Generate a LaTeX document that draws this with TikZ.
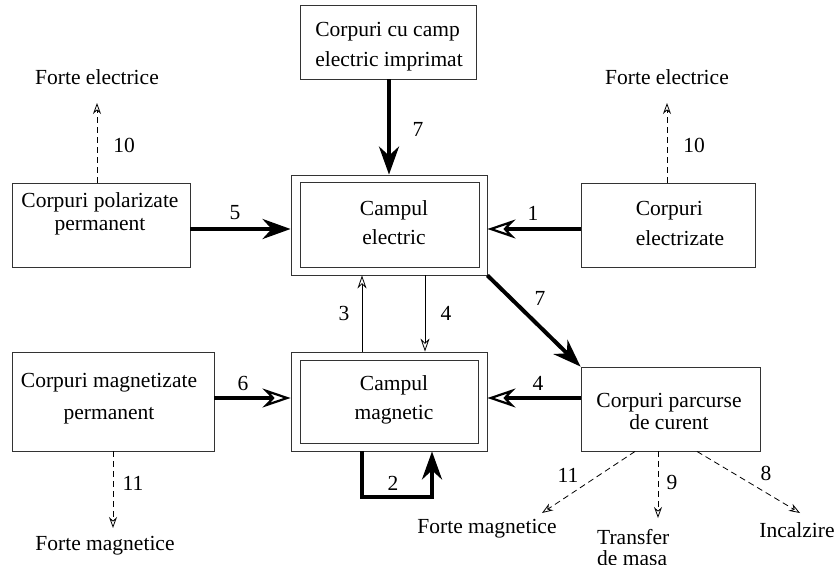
\documentclass[tikz,border=0pt]{standalone}
\usepackage{fontspec}
\setmainfont{Liberation Serif}
\usetikzlibrary{arrows.meta}
\begin{document}
\begin{tikzpicture}[x=1pt,y=-1pt,
  every node/.style={font=\fontsize{21.5}{29}\selectfont},
  box/.style={draw=black!80,line width=0.9pt,inner sep=0pt},
  txt/.style={inner sep=0pt,align=center},
  thickfill/.style={line width=4pt,-{Stealth[length=28pt,width=20pt]}},
  thickopen/.style={line width=4pt,-{Stealth[open,length=28pt,width=19pt,line width=2.2pt]}},
  thinopen/.style={line width=0.8pt,-{Stealth[open,length=13pt,width=9pt]}},
  dashopen/.style={line width=0.8pt,dash pattern=on 6pt off 4pt,-{Stealth[open,length=11pt,width=8pt]}},
  lbl/.style={inner sep=0pt}]
\useasboundingbox (0,0) rectangle (839,565);
% boxes
\node[box,minimum width=176pt,minimum height=74pt] (top) at (388,42) {};
\node[box,minimum width=196pt,minimum height=100pt] (elecO) at (389,225) {};
\node[box,minimum width=179pt,minimum height=85pt] (elecI) at (389.5,225) {};
\node[box,minimum width=196pt,minimum height=99pt] (magO) at (389,401.5) {};
\node[box,minimum width=178pt,minimum height=83pt] (magI) at (389,401.5) {};
\node[box,minimum width=178pt,minimum height=84pt] (pol) at (101,225) {};
\node[box,minimum width=174pt,minimum height=84pt] (elz) at (668,225) {};
\node[box,minimum width=202pt,minimum height=99pt] (mgz) at (113,401.5) {};
\node[box,minimum width=179pt,minimum height=84pt] (cur) at (670.5,409) {};
% box texts
\node[txt,align=left,font=\fontsize{21.5}{30}\selectfont] (ttop) at (389,47) {Corpuri cu camp\\electric imprimat};
\node[txt] (telec) at (394,222.5) {Campul\\electric};
\node[txt] (tmag) at (394,399.5) {Campul\\magnetic};
\node[txt,font=\fontsize{21.5}{23}\selectfont] (tpol) at (100,213.5) {Corpuri polarizate\\permanent};
\node[txt,align=left,font=\fontsize{21.5}{30}\selectfont] (telz) at (680,223) {Corpuri\\electrizate};
\node[txt,font=\fontsize{21.5}{32}\selectfont] (tmgz) at (109,399) {Corpuri magnetizate\\permanent};
\node[txt,font=\fontsize{21.5}{22}\selectfont] (tcur) at (669,411) {Corpuri parcurse\\de curent};
% end texts
\node[lbl] (fe1) at (97,77) {Forte electrice};
\node[lbl] (fe2) at (667,77) {Forte electrice};
\node[lbl] (fm1) at (105,546) {Forte magnetice};
\node[lbl] (fm2) at (487,529) {Forte magnetice};
\node[lbl,align=left,anchor=west,font=\fontsize{21.5}{21}\selectfont] (tm) at (597,548) {Transfer\\de masa};
\node[lbl] (inc) at (797,530) {Incalzire};
\coordinate (e10a) at (97,103);
\coordinate (e10b) at (667,103);
\coordinate (e11a) at (113,528);
\coordinate (e11b) at (542,513);
\coordinate (e9) at (658,518);
\coordinate (e8) at (800,513);
% connectors
\draw[thickfill] (top.south -| elecO.north) -- (elecO.north);
\draw[thickfill] (pol.east |- 0,229) -- (elecO.west |- 0,229);
\draw[thickopen] (elz.west |- 0,229) -- (elecO.east |- 0,229);
\draw[thinopen] ([xshift=-27pt]magO.north) -- ([xshift=-27pt]elecO.south);
\draw[thinopen] ([xshift=36pt]elecO.south) -- ([xshift=36pt]magO.north);
\draw[thickfill] (elecO.south east) -- (cur.north west);
\draw[thickopen] (mgz.east |- 0,398) -- (magO.west |- 0,398);
\draw[thickopen] (cur.west |- 0,398) -- (magO.east |- 0,398);
\draw[thickfill] ([xshift=-27pt]magO.south) -- ++(0,46) -| ([xshift=43pt]magO.south);
\draw[dashopen] (pol.north -| e10a) -- (e10a);
\draw[dashopen] (elz.north -| e10b) -- (e10b);
\draw[dashopen] (mgz.south -| e11a) -- (e11a);
\draw[dashopen] (cur.south -| 635,0) -- (e11b);
\draw[dashopen] (cur.south -| e9) -- (e9);
\draw[dashopen] (cur.south -| 697,0) -- (e8);
% labels
\node[lbl] (l7a) at (418,129) {7};
\node[lbl] (l5) at (235,213) {5};
\node[lbl] (l1) at (533,213) {1};
\node[lbl] (l3) at (344,313) {3};
\node[lbl] (l4a) at (446,313) {4};
\node[lbl] (l7b) at (540,298) {7};
\node[lbl] (l6) at (243,383) {6};
\node[lbl] (l4b) at (538,383) {4};
\node[lbl] (l2) at (393,483) {2};
\node[lbl] (l10a) at (124,145) {10};
\node[lbl] (l10b) at (694,145) {10};
\node[lbl] (l11a) at (133,483) {11};
\node[lbl] (l11b) at (568,475) {11};
\node[lbl] (l9) at (672,482) {9};
\node[lbl] (l8) at (766,473) {8};
\end{tikzpicture}
\end{document}
